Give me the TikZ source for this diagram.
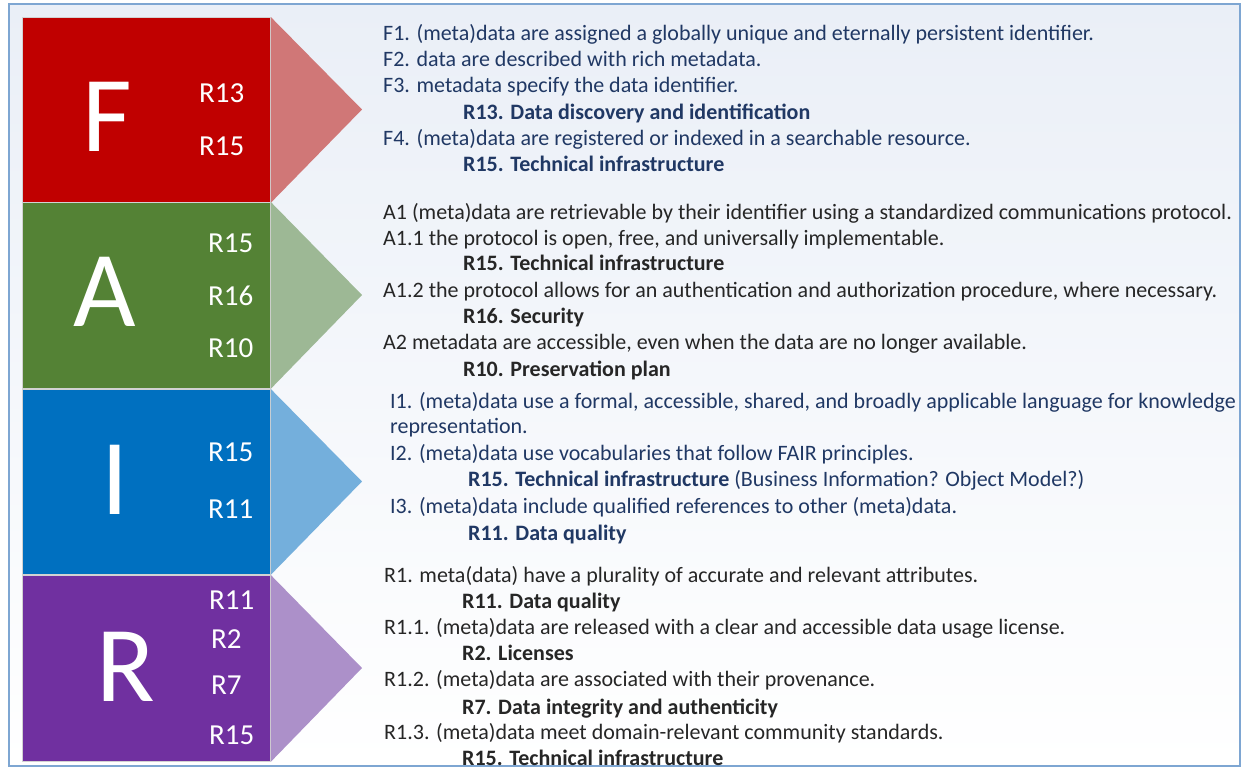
\documentclass[tikz,border=0pt]{standalone}
\usepackage{fontspec}
\setmainfont{Carlito}
\definecolor{fred}{HTML}{C00000}
\definecolor{fgreen}{HTML}{548235}
\definecolor{fblue}{HTML}{0070C0}
\definecolor{fpurple}{HTML}{7030A0}
\definecolor{fredl}{HTML}{D07777}
\definecolor{fgreenl}{HTML}{9DB895}
\definecolor{fbluel}{HTML}{74AFDC}
\definecolor{fpurplel}{HTML}{AC90C9}
\definecolor{navy}{HTML}{203864}
\definecolor{ink}{HTML}{262626}
\definecolor{frame}{HTML}{7EA6D2}
\definecolor{paper}{HTML}{EAEFF7}
\begin{document}
\begin{tikzpicture}[x=1pt,y=-1pt,
    block/.style={draw=gray!35, line width=0.8pt, anchor=north west, inner sep=0pt,
        minimum width=248pt},
    letter/.style={text=white, inner sep=0pt, font=\fontsize{108}{108}\selectfont},
    rnum/.style={text=white, anchor=west, inner sep=0pt, font=\fontsize{29}{31}\selectfont},
    line/.style={anchor=base west, inner sep=0pt, font=\fontsize{22}{24}\selectfont},
    req/.style={anchor=base west, inner sep=0pt, font=\fontsize{22}{24}\selectfont\bfseries}]
    \useasboundingbox (0,0) rectangle (1243,769);
    % frame
    \shade[top color=paper, bottom color=white, draw=frame, line width=2pt] (9,4) rectangle (1240,766);

    % F
    \node[block, fill=fred, minimum height=185pt] (Fbox) at (22,17) {};
    \coordinate (Ftip) at (362,109.5);
    \fill[fredl] (Fbox.north east) -- (Ftip) -- (Fbox.south east) -- cycle;
    \node[letter] (Fl) at (107,117) {F};
    \node[rnum] (Fr13) at (199,93) {R13};
    \node[rnum] (Fr15) at (199,146) {R15};
    \node[line, text=navy] (f1) at (383,40) {F1. (meta)data are assigned a globally unique and eternally persistent identifier.};
    \node[line, text=navy] (f2) at (383,66) {F2. data are described with rich metadata.};
    \node[line, text=navy] (f3) at (383,92) {F3. metadata specify the data identifier.};
    \node[req, text=navy] (f13) at (463,119) {R13. Data discovery and identification};
    \node[line, text=navy] (f4) at (383,145) {F4. (meta)data are registered or indexed in a searchable resource.};
    \node[req, text=navy] (f15) at (463,171) {R15. Technical infrastructure};

    % A
    \node[block, fill=fgreen, minimum height=186pt] (Abox) at (22,202) {};
    \coordinate (Atip) at (362,295);
    \fill[fgreenl] (Abox.north east) -- (Atip) -- (Abox.south east) -- cycle;
    \node[letter] (Al) at (105,292) {A};
    \node[rnum] (Ar15) at (208,243) {R15};
    \node[rnum] (Ar16) at (208,296) {R16};
    \node[rnum] (Ar10) at (208,348) {R10};
    \node[line, text=ink] (a1) at (383,219) {A1 (meta)data are retrievable by their identifier using a standardized communications protocol.};
    \node[line, text=ink] (a11) at (383,245) {A1.1 the protocol is open, free, and universally implementable.};
    \node[req, text=ink] (a15) at (463,270) {R15. Technical infrastructure};
    \node[line, text=ink] (a12) at (383,297) {A1.2 the protocol allows for an authentication and authorization procedure, where necessary.};
    \node[req, text=ink] (a16) at (463,323) {R16. Security};
    \node[line, text=ink] (a2) at (383,349) {A2 metadata are accessible, even when the data are no longer available.};
    \node[req, text=ink] (a10) at (463,376) {R10. Preservation plan};

    % I
    \node[block, fill=fblue, minimum height=185pt] (Ibox) at (22,389) {};
    \coordinate (Itip) at (362,481.5);
    \fill[fbluel] (Ibox.north east) -- (Itip) -- (Ibox.south east) -- cycle;
    \node[letter] (Il) at (115,480) {I};
    \node[rnum] (Ir15) at (208,452) {R15};
    \node[rnum] (Ir11) at (208,509) {R11};
    \node[line, text=navy] (i1) at (390,408) {I1. (meta)data use a formal, accessible, shared, and broadly applicable language for knowledge};
    \node[line, text=navy] (i1b) at (390,433) {representation.};
    \node[line, text=navy] (i2) at (390,460) {I2. (meta)data use vocabularies that follow FAIR principles.};
    \node[line, text=navy] (i15) at (468,486) {\textbf{R15. Technical infrastructure} (Business Information? Object Model?)};
    \node[line, text=navy] (i3) at (390,513) {I3. (meta)data include qualified references to other (meta)data.};
    \node[req, text=navy] (i11) at (468,540) {R11. Data quality};

    % R
    \node[block, fill=fpurple, minimum height=186pt] (Rbox) at (22,575) {};
    \coordinate (Rtip) at (362,668);
    \fill[fpurplel] (Rbox.north east) -- (Rtip) -- (Rbox.south east) -- cycle;
    \node[letter] (Rl) at (126,667) {R};
    \node[rnum] (Rr11) at (209,600) {R11};
    \node[rnum] (Rr2) at (211,639) {R2};
    \node[rnum] (Rr7) at (211,685) {R7};
    \node[rnum] (Rr15) at (209,735) {R15};
    \node[line, text=ink] (r1) at (384,582) {R1. meta(data) have a plurality of accurate and relevant attributes.};
    \node[req, text=ink] (r11) at (462,608) {R11. Data quality};
    \node[line, text=ink] (r1a) at (384,634) {R1.1. (meta)data are released with a clear and accessible data usage license.};
    \node[req, text=ink] (r2) at (462,660) {R2. Licenses};
    \node[line, text=ink] (r1b) at (384,686) {R1.2. (meta)data are associated with their provenance.};
    \node[req, text=ink] (r7) at (462,714) {R7. Data integrity and authenticity};
    \node[line, text=ink] (r1c) at (384,739) {R1.3. (meta)data meet domain-relevant community standards.};
    \node[req, text=ink] (r15) at (462,765) {R15. Technical infrastructure};
\end{tikzpicture}
\end{document}
